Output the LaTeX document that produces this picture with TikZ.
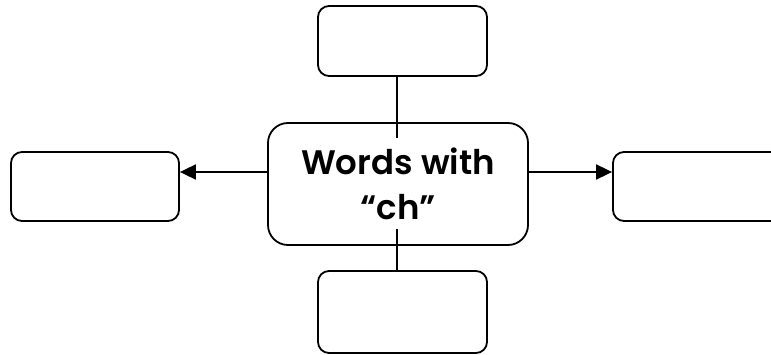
\documentclass[tikz,border=0pt]{standalone}
\usepackage{fontspec}
\setmainfont{Poppins}
\newfontfamily\hubfont{Poppins SemiBold}
\usetikzlibrary{arrows.meta}

\begin{document}
\begin{tikzpicture}[x=1pt, y=1pt,
    cell/.style={draw, line width=1.8pt, rounded corners=11pt, minimum width=169pt, minimum height=70pt, inner sep=0pt},
    hub/.style={draw, line width=1.8pt, rounded corners=20pt, minimum width=260pt, minimum height=122pt, align=center, font=\hubfont\fontsize{34}{45}\selectfont},
    arr/.style={draw, line width=1.8pt, -{Triangle[length=16pt,width=15pt]}},
    conn/.style={draw, line width=1.8pt}]
    \useasboundingbox (0,0) rectangle (771,-355);

    \node[hub] (words) at (398,-184) {Words with\\“ch”};
    \node[cell] (top) at (402.5,-41) {};
    \node[cell, minimum height=82pt] (bottom) at (402.5,-312) {};
    \node[cell, minimum width=168pt, minimum height=69pt] (left) at (95,-186.5) {};
    \node[cell, minimum width=190pt, minimum height=69pt] (right) at (708,-186.5) {};

    \coordinate (wordsup) at (397,-138);
    \coordinate (wordsdown) at (397,-229);

    \draw[conn] (top.south -| wordsup) -- (wordsup);
    \draw[conn] (wordsdown) -- (bottom.north -| wordsdown);
    \draw[arr] (words.west |- 0,-172) -- (left.east |- 0,-172);
    \draw[arr] (words.east |- 0,-172) -- (right.west |- 0,-172);
\end{tikzpicture}
\end{document}
